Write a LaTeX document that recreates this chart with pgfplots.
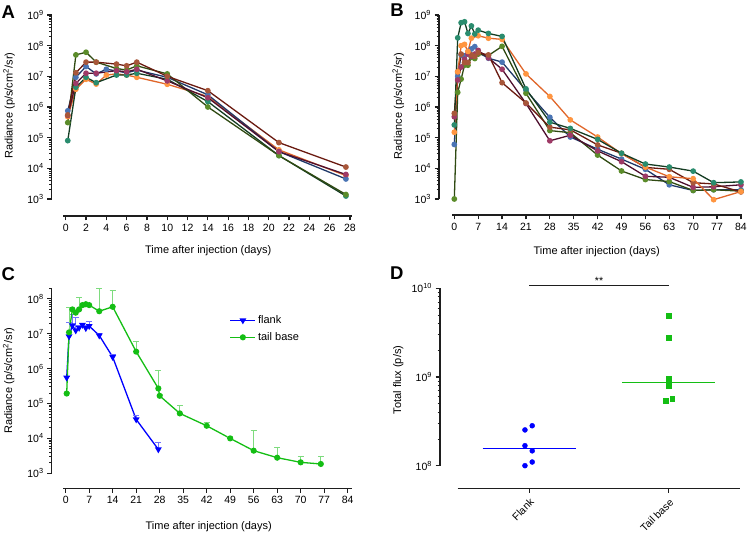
\documentclass[border=0pt]{standalone}
\usepackage{pgfplots}
\pgfplotsset{compat=1.18}
\usepackage{fontspec}
\setmainfont{Liberation Sans}

\definecolor{blueM}{RGB}{74,116,180}
\definecolor{blueL}{RGB}{31,56,104}
\definecolor{orM}{RGB}{255,149,64}
\definecolor{orL}{RGB}{224,102,42}
\definecolor{brM}{RGB}{168,87,58}
\definecolor{brL}{RGB}{106,26,16}
\definecolor{mgM}{RGB}{158,58,102}
\definecolor{mgL}{RGB}{78,15,46}
\definecolor{olM}{RGB}{91,140,42}
\definecolor{olL}{RGB}{47,74,18}
\definecolor{tlM}{RGB}{42,140,110}
\definecolor{tlL}{RGB}{20,60,34}
\definecolor{flank}{RGB}{0,0,255}
\definecolor{tail}{RGB}{20,190,20}
\definecolor{axc}{RGB}{30,30,30}

\pgfplotsset{
 prism/.style={
   scale only axis,
   anchor=north west,
   axis lines*=left,
   axis line style={line width=1.2pt, axc},
   tick align=outside,
   major tick length=4.5pt,
   minor tick length=2.5pt,
   tick style={line width=1.2pt, axc},
   minor tick style={line width=0.8pt},
   tick label style={font=\fontsize{10.5}{12}\selectfont, text=black},
   /pgf/number format/assume math mode=true,
   clip=false,
 },
 ser/.style 2 args={color=#1, line width=1.3pt, mark=*, mark size=2.2pt, mark options={fill=#2, draw=#2, solid}},
}

\begin{document}
\begin{tikzpicture}
\path[use as bounding box] (0pt,0pt) rectangle (747pt,534pt);

% ---------------- Panel A ----------------
\begin{axis}[prism, at={(63pt,519pt)}, width=289pt, height=184pt,
  xmin=-0.27, xmax=28.2, xtick={0,2,...,28},
  ymode=log, ymin=1e3, ymax=1e9, ytick={1e3,1e4,1e5,1e6,1e7,1e8,1e9},
  yticklabels={10\textsuperscript{3},10\textsuperscript{4},10\textsuperscript{5},10\textsuperscript{6},10\textsuperscript{7},10\textsuperscript{8},10\textsuperscript{9}},
  minor ytick={2e3,3e3,4e3,5e3,6e3,7e3,8e3,9e3,2e4,3e4,4e4,5e4,6e4,7e4,8e4,9e4,2e5,3e5,4e5,5e5,6e5,7e5,8e5,9e5,2e6,3e6,4e6,5e6,6e6,7e6,8e6,9e6,2e7,3e7,4e7,5e7,6e7,7e7,8e7,9e7,2e8,3e8,4e8,5e8,6e8,7e8,8e8,9e8},
  axis x line shift=17pt, axis y line shift=11.3pt]
\addplot[ser={orL}{orM}] coordinates {(0.2,4.8e5)(1,3.8e6)(2,8e6)(3,5.6e6)(4,1.1e7)(5,1.2e7)(6,1.1e7)(7,9.3e6)(10,5.5e6)(14,2.2e6)(21,4e4)(27.6,5.8e3)};
\addplot[ser={blueL}{blueM}] coordinates {(0.2,7.5e5)(1,9.3e6)(2,2.1e7)(3,1.2e7)(4,1.7e7)(5,1.5e7)(6,1.3e7)(7,1.6e7)(10,9.3e6)(14,2.5e6)(21,3.5e4)(27.6,4.5e3)};
\addplot[ser={tlL}{tlM}] coordinates {(0.2,8e4)(1,4.4e6)(2,9.3e6)(3,6.2e6)(5,1.1e7)(6,1.1e7)(7,1.26e7)(10,8e6)(14,1.5e6)(21,2.6e4)(27.6,1.25e3)};
\addplot[ser={olL}{olM}] coordinates {(0.2,3.1e5)(1,5e7)(2,6.1e7)(3,2.9e7)(5,1.8e7)(6,1.6e7)(7,2.2e7)(10,1.2e7)(14,1.0e6)(21,2.6e4)(27.6,1.4e3)};
\addplot[ser={mgL}{mgM}] coordinates {(0.2,5.3e5)(1,5.9e6)(2,1.26e7)(3,1.26e7)(5,1.53e7)(6,1.4e7)(7,1.7e7)(10,7.1e6)(14,2e6)(21,3.5e4)(27.6,6.3e3)};
\addplot[ser={brL}{brM}] coordinates {(0.2,5.5e5)(1,1.3e7)(2,2.9e7)(3,2.9e7)(5,2.5e7)(6,2.2e7)(7,2.9e7)(10,1.0e7)(14,3.4e6)(21,6.9e4)(27.6,1.1e4)};
\end{axis}

% ---------------- Panel B ----------------
\begin{axis}[prism, at={(452.3pt,519pt)}, width=290pt, height=184pt,
  xmin=-0.59, xmax=84.4, xtick={0,7,...,84},
  ymode=log, ymin=1e3, ymax=1e9, ytick={1e3,1e4,1e5,1e6,1e7,1e8,1e9},
  yticklabels={10\textsuperscript{3},10\textsuperscript{4},10\textsuperscript{5},10\textsuperscript{6},10\textsuperscript{7},10\textsuperscript{8},10\textsuperscript{9}},
  minor ytick={2e3,3e3,4e3,5e3,6e3,7e3,8e3,9e3,2e4,3e4,4e4,5e4,6e4,7e4,8e4,9e4,2e5,3e5,4e5,5e5,6e5,7e5,8e5,9e5,2e6,3e6,4e6,5e6,6e6,7e6,8e6,9e6,2e7,3e7,4e7,5e7,6e7,7e7,8e7,9e7,2e8,3e8,4e8,5e8,6e8,7e8,8e8,9e8},
  axis x line shift=16pt, axis y line shift=13.3pt]
\addplot[ser={blueL}{blueM}] coordinates {(0,6e4)(1,1e7)(2,5e7)(3,4.6e7)(4,6.4e7)(5,7.8e7)(6,9.3e7)(7,6e7)(10,3.9e7)(14,2.9e7)(21,3.5e6)(28,4.6e5)(34,1.05e5)(42,4.2e4)(49,2e4)(56,9.3e3)(63,2.9e3)(70,1.9e3)(76,2e3)(84,2e3)};
\addplot[ser={olL}{olM}] coordinates {(0,1e3)(1,3e6)(2,8.1e6)(3,2.3e7)(4,2.3e7)(5,4.2e7)(6,3.8e7)(7,5.3e7)(10,4.8e7)(14,9.5e7)(21,2.8e6)(28,1.7e5)(34,1.45e5)(42,2.7e4)(49,8.2e3)(56,4.3e3)(63,3.7e3)(70,1.9e3)(76,2e3)(84,1.8e3)};
\addplot[ser={mgL}{mgM}] coordinates {(0,4.8e5)(1,7.6e6)(2,2e7)(3,3.6e7)(4,5.3e7)(5,4.5e7)(6,5.3e7)(7,7e7)(10,4e7)(14,1.7e7)(21,1.3e6)(28,7.9e4)(34,1.2e5)(42,3.7e4)(49,1.65e4)(56,5.5e3)(63,5.1e3)(70,2.4e3)(76,2.5e3)(84,2.9e3)};
\addplot[ser={brL}{brM}] coordinates {(0,6.2e5)(1,1.4e7)(2,5.3e7)(3,2.8e7)(4,2.8e7)(5,5e7)(6,4.5e7)(7,5.9e7)(10,5e7)(14,6.2e6)(21,1.35e6)(28,2.2e5)(34,1.8e5)(42,5.8e4)(49,3.1e4)(56,1.07e4)(63,9.3e3)(70,3.4e3)(76,3.1e3)(84,1.7e3)};
\addplot[ser={orL}{orM}] coordinates {(0,1.5e5)(1,1.4e7)(2,1e8)(3,1.1e8)(4,6.5e7)(5,1.75e8)(7,2.1e8)(10,1.75e8)(14,1.6e8)(21,1.2e7)(28,2.2e6)(34,3.8e5)(42,1.05e5)(49,3e4)(56,1.1e4)(63,5.3e3)(70,4.6e3)(76,9.5e2)(84,1.75e3)};
\addplot[ser={tlL}{tlM}] coordinates {(0,2.6e5)(1,1.8e8)(2,5.6e8)(3,6e8)(4,2.5e8)(5,4.4e8)(6,2.4e8)(7,3.2e8)(10,2.5e8)(14,2e8)(21,3.9e6)(28,3.2e5)(34,2e5)(42,8.8e4)(49,3.1e4)(56,1.38e4)(63,1.1e4)(70,8.1e3)(76,3.4e3)(84,3.6e3)};
\end{axis}

% ---------------- Panel C ----------------
\begin{axis}[prism, at={(63.3pt,245.7pt)}, width=288.4pt, height=185pt,
  xmin=-0.71, xmax=85.2, xtick={0,7,...,84},
  ymode=log, ymin=1e3, ymax=2e8, ytick={1e3,1e4,1e5,1e6,1e7,1e8},
  yticklabels={10\textsuperscript{3},10\textsuperscript{4},10\textsuperscript{5},10\textsuperscript{6},10\textsuperscript{7},10\textsuperscript{8}},
  minor ytick={2e3,3e3,4e3,5e3,6e3,7e3,8e3,9e3,2e4,3e4,4e4,5e4,6e4,7e4,8e4,9e4,2e5,3e5,4e5,5e5,6e5,7e5,8e5,9e5,2e6,3e6,4e6,5e6,6e6,7e6,8e6,9e6,2e7,3e7,4e7,5e7,6e7,7e7,8e7,9e7,2e8},
  axis x line shift=15pt, axis y line shift=11.6pt,
  legend style={at={(axis description cs:0.566,0.875)}, anchor=north west, draw=none, fill=none,
    font=\fontsize{11}{13}\selectfont, row sep=3.5pt},
  legend cell align=left,
  legend image code/.code={\draw[mark repeat=2,mark phase=2,#1] plot coordinates {(0pt,0pt)(12.5pt,0pt)(25pt,0pt)};}]
\addplot[color=flank, line width=1.3pt, mark=triangle*, mark size=2.7pt, mark options={rotate=180, solid},
  error bars/y dir=plus, error bars/y explicit,
  error bars/error bar style={line width=0.9pt, color=flank!55},
  error bars/error mark options={rotate=90, mark size=3pt, line width=0.9pt, color=flank!55}]
  table[x=x, y=y, y error plus=e] {
x y e
0.3 5.5e5 5e4
1 8.4e6 1.2e7
2 1.73e7 1.77e7
3 1.24e7 1.66e7
4 1.48e7 3e6
5 1.8e7 2e6
6 1.45e7 3e6
7 1.66e7 6.4e6
10 8.9e6 1.6e6
14 2.15e6 3.5e5
21 3.5e4 1.1e4
27.6 4.85e3 2.65e3
};
\addlegendentry{flank}
\addplot[color=tail, line width=1.3pt, mark=*, mark size=2.4pt, mark options={solid},
  error bars/y dir=plus, error bars/y explicit,
  error bars/error bar style={line width=0.9pt, color=tail!55},
  error bars/error mark options={rotate=90, mark size=3pt, line width=0.9pt, color=tail!55}]
  table[x=x, y=y, y error plus=e] {
x y e
0.3 1.93e5 1e4
1 1.09e7 4.7e7
2 4.96e7 5e6
3 4.0e7 5e6
4 4.96e7 6e7
5 6.6e7 5e6
6 7.0e7 3e6
7 6.6e7 5e6
10 4.4e7 1.49e8
14 5.9e7 1.15e8
21 3.06e6 2.9e6
27.6 2.7e5 5.9e5
28 1.66e5 1e4
34 5.2e4 3.4e4
42 2.3e4 6e3
49 1.0e4 1.7e3
56 4.45e3 1.28e4
63 2.8e3 2.6e3
70 2.06e3 9.4e2
76 1.85e3 1.15e3
};
\addlegendentry{tail base}
\end{axis}

% ---------------- Panel D ----------------
\begin{axis}[prism, at={(457.7pt,245.7pt)}, width=282.3pt, height=177.4pt,
  xmin=-0.513, xmax=1.51, xtick={0,1}, xticklabels={Flank,Tail base},
  xticklabel style={rotate=45, anchor=north east, font=\fontsize{10.5}{12}\selectfont},
  ymode=log, ymin=1e8, ymax=1e10, ytick={1e8,1e9,1e10},
  yticklabels={10\textsuperscript{8},10\textsuperscript{9},10\textsuperscript{10}},
  minor ytick={2e8,3e8,4e8,5e8,6e8,7e8,8e8,9e8,2e9,3e9,4e9,5e9,6e9,7e9,8e9,9e9},
  axis x line shift=22.6pt, axis y line shift=17.7pt]
\addplot[only marks, mark=*, mark size=2.5pt, color=flank] coordinates {(-0.031,2.53e8)(0.021,2.82e8)(-0.031,1.68e8)(0.021,1.47e8)(0.021,1.10e8)(-0.031,1.0e8)};
\addplot[only marks, mark=square*, mark size=2.4pt, color=tail] coordinates {(1,4.91e9)(1,2.77e9)(1,9.48e8)(1,7.91e8)(0.976,5.41e8)(1.024,5.75e8)};
\addplot[flank, line width=1.4pt] coordinates {(-0.335,1.57e8)(0.335,1.57e8)};
\addplot[tail, line width=1.4pt] coordinates {(0.667,8.63e8)(1.333,8.63e8)};
\addplot[axc, line width=1.4pt] coordinates {(0,1.07e10)(1,1.07e10)};
\node[anchor=base, inner sep=0pt, font=\fontsize{10.5}{12}\selectfont] at (axis cs:0.5,1.09e10) {**};
\end{axis}

% ---------------- labels ----------------
\begin{scope}[every node/.style={font=\fontsize{11}{13}\selectfont}]
\node at (208.2pt,283pt) {Time after injection (days)};
\node at (596.7pt,282pt) {Time after injection (days)};
\node at (208.7pt,7.3pt) {Time after injection (days)};
\node[rotate=90] at (9pt,428.2pt) {Radiance (p/s/cm\textsuperscript{2}/sr)};
\node[rotate=90] at (398.3pt,428pt) {Radiance (p/s/cm\textsuperscript{2}/sr)};
\node[rotate=90] at (8.7pt,153.2pt) {Radiance (p/s/cm\textsuperscript{2}/sr)};
\node[rotate=90] at (398.3pt,154pt) {Total flux (p/s)};
\end{scope}
\begin{scope}[every node/.style={font=\fontsize{18.5}{20}\selectfont\bfseries}]
\node at (8.3pt,522.3pt) {A};
\node at (397pt,524pt) {B};
\node at (8.3pt,260.3pt) {C};
\node at (396.7pt,260.7pt) {D};
\end{scope}
\end{tikzpicture}
\end{document}
